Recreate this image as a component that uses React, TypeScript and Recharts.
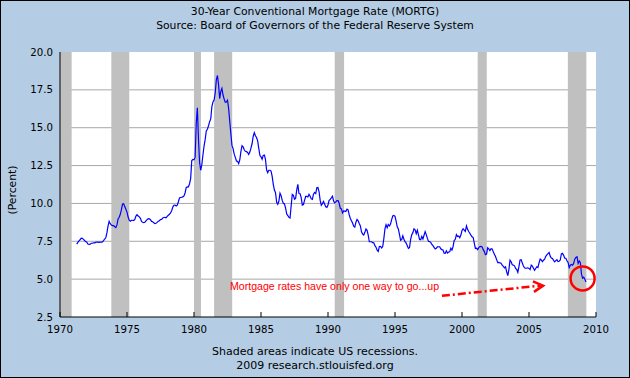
import React from 'react';
import {
  LineChart,
  Line,
  XAxis,
  YAxis,
  CartesianGrid,
  ReferenceArea,
  ReferenceLine,
  ReferenceDot
} from 'recharts';

// monthly 30-year conventional mortgage rate, first value is April 1971
const START_YEAR = 1971;
const START_MONTH = 3;

const rates1970s = [
  7.31, 7.43, 7.53, 7.60, 7.70, 7.69, 7.63, 7.55, 7.48,
  7.44, 7.32, 7.29, 7.31, 7.37, 7.37, 7.40, 7.40, 7.43, 7.45, 7.44, 7.43,
  7.44, 7.44, 7.46, 7.54, 7.65, 7.73, 8.05, 8.50, 8.82, 8.66, 8.58, 8.54,
  8.54, 8.46, 8.41, 8.58, 8.97, 9.09, 9.28, 9.59, 9.96, 9.98, 9.79, 9.62,
  9.43, 9.10, 8.89, 8.82, 8.89, 8.89, 8.87, 8.94, 9.16, 9.25, 9.17, 9.11,
  9.02, 8.81, 8.76, 8.73, 8.76, 8.85, 8.93, 9.00, 8.98, 8.92, 8.81, 8.79,
  8.72, 8.67, 8.69, 8.75, 8.83, 8.86, 8.94, 8.94, 9.04, 9.07, 9.08, 9.05,
  9.14, 9.22, 9.28, 9.37, 9.52, 9.76, 9.88, 9.89, 9.83, 9.89, 10.11, 10.36,
  10.39, 10.41, 10.43, 10.50, 10.69, 11.04, 11.09, 11.09, 11.30, 11.64, 12.83, 12.90
];

const rates1980s = [
  12.88, 13.04, 15.28, 16.32, 14.26, 12.71, 12.19, 12.56, 13.20, 13.79, 14.21, 14.79,
  14.90, 15.13, 15.40, 15.58, 16.40, 16.70, 16.83, 17.29, 18.16, 18.45, 17.83, 16.92,
  17.40, 17.60, 17.16, 16.89, 16.68, 16.70, 16.82, 16.27, 15.43, 14.61, 13.83, 13.62,
  13.25, 13.04, 12.80, 12.78, 12.63, 12.87, 13.42, 13.81, 13.73, 13.54, 13.44, 13.42,
  13.37, 13.23, 13.39, 13.65, 13.94, 14.42, 14.67, 14.47, 14.35, 14.13, 13.64, 13.18,
  13.08, 12.92, 13.17, 13.20, 12.91, 12.22, 12.03, 12.19, 12.19, 12.14, 11.78, 11.26,
  10.88, 10.71, 10.08, 9.94, 10.14, 10.68, 10.51, 10.20, 10.01, 9.97, 9.70, 9.31,
  9.20, 9.08, 9.04, 9.83, 10.60, 10.54, 10.28, 10.33, 10.89, 11.26, 10.65, 10.64,
  10.38, 9.89, 9.93, 10.20, 10.46, 10.46, 10.43, 10.60, 10.48, 10.30, 10.27, 10.61,
  10.73, 10.65, 11.03, 11.05, 10.77, 10.20, 9.88, 9.99, 10.13, 9.95, 9.77, 9.74
];

const rates1990s = [
  9.90, 10.20, 10.27, 10.37, 10.48, 10.16, 10.04, 10.10, 10.18, 10.18, 10.01, 9.67,
  9.64, 9.37, 9.50, 9.49, 9.47, 9.62, 9.58, 9.24, 9.01, 8.86, 8.71, 8.50,
  8.43, 8.76, 8.94, 8.85, 8.67, 8.51, 8.13, 7.98, 7.92, 8.09, 8.31, 8.22,
  7.91, 7.47, 7.47, 7.47, 7.41, 7.40, 7.21, 7.11, 6.91, 6.83, 7.16, 7.17,
  7.06, 7.15, 7.68, 8.32, 8.60, 8.40, 8.61, 8.51, 8.64, 8.93, 9.17, 9.20,
  9.15, 8.83, 8.46, 8.32, 7.96, 7.57, 7.61, 7.86, 7.64, 7.48, 7.38, 7.20,
  7.03, 7.08, 7.62, 7.93, 8.07, 8.32, 8.25, 8.00, 8.23, 7.92, 7.62, 7.60,
  7.82, 7.65, 7.90, 8.14, 7.94, 7.69, 7.50, 7.48, 7.43, 7.29, 7.21, 7.10,
  6.99, 7.04, 7.13, 7.14, 7.14, 7.00, 6.95, 6.92, 6.72, 6.71, 6.87, 6.72,
  6.79, 6.81, 7.04, 6.92, 7.15, 7.55, 7.63, 7.94, 7.82, 7.85, 7.74, 7.91
];

const rates2000s = [
  8.21, 8.33, 8.24, 8.15, 8.52, 8.29, 8.15, 8.03, 7.91, 7.80, 7.75, 7.38,
  7.03, 7.05, 6.95, 7.08, 7.15, 7.16, 7.13, 6.95, 6.82, 6.62, 6.66, 7.07,
  7.00, 6.89, 7.01, 6.99, 6.81, 6.65, 6.49, 6.29, 6.09, 6.11, 6.07, 6.05,
  5.92, 5.84, 5.75, 5.81, 5.48, 5.23, 5.63, 6.26, 6.15, 5.95, 5.93, 5.88,
  5.71, 5.64, 5.45, 5.83, 6.27, 6.29, 6.06, 5.87, 5.75, 5.72, 5.73, 5.75,
  5.71, 5.63, 5.93, 5.86, 5.72, 5.58, 5.70, 5.82, 5.77, 6.07, 6.33, 6.27,
  6.15, 6.25, 6.32, 6.51, 6.60, 6.68, 6.76, 6.52, 6.40, 6.36, 6.24, 6.14,
  6.22, 6.29, 6.16, 6.18, 6.26, 6.66, 6.70, 6.57, 6.38, 6.38, 6.21, 6.10,
  5.76, 5.92, 5.97, 5.92, 6.04, 6.32, 6.43, 6.48, 6.04, 6.20, 6.09, 5.33,
  5.06, 5.13, 5.00, 4.81
];

// recession periods (start, end) in fractional years
const recessions = [
  [1970.0, 1970.87],
  [1973.83, 1975.17],
  [1980.0, 1980.52],
  [1981.5, 1982.85],
  [1990.5, 1991.2],
  [2001.17, 2001.85],
  [2007.9, 2009.28]
];

const yearTicks = [1970, 1975, 1980, 1985, 1990, 1995, 2000, 2005, 2010];
const rateTicks = [2.5, 5, 7.5, 10, 12.5, 15, 17.5, 20];
const gridValues = [5, 7.5, 10, 12.5, 15, 17.5];

const allRates = [...rates1970s, ...rates1980s, ...rates1990s, ...rates2000s];
const data = allRates.map((rate, i) => ({
  x: START_YEAR + (START_MONTH + i) / 12,
  rate
}));

const RED = '#ff0000';
const FONT = '"DejaVu Sans", Verdana, sans-serif';

const arrowShape = (props: any) => {
  const { x1, y1, x2, y2 } = props;
  const ang = Math.atan2(y2 - y1, x2 - x1);
  const len = 11;
  const a1x = x2 - len * Math.cos(ang - 0.5);
  const a1y = y2 - len * Math.sin(ang - 0.5);
  const a2x = x2 - len * Math.cos(ang + 0.5);
  const a2y = y2 - len * Math.sin(ang + 0.5);
  return (
    <g>
      <line x1={x1} y1={y1} x2={x2 - 3} y2={y2} stroke={RED} strokeWidth={2.5} strokeDasharray="8 3 2 3" />
      <path d={`M${a1x},${a1y} L${x2},${y2} L${a2x},${a2y}`} fill="none" stroke={RED} strokeWidth={2.5} />
    </g>
  );
};

export default function App() {
  return (
    <div style={{ position: 'relative', width: 630, height: 378, background: '#b4cde4', fontFamily: FONT, overflow: 'hidden' }}>
      <style>{'body{margin:0}'}</style>
      <div style={{ position: 'absolute', top: 5, left: 0, width: 630, textAlign: 'center', fontSize: 10.8, lineHeight: '13.5px', color: '#000' }}>
        30-Year Conventional Mortgage Rate (MORTG)
        <br />
        Source: Board of Governors of the Federal Reserve System
      </div>
      <LineChart width={630} height={378} data={data} margin={{ top: 52, right: 34, bottom: 31, left: 0 }}>
        <CartesianGrid
          vertical={false}
          horizontalValues={gridValues}
          stroke="#a8a8a8"
          fill="#ffffff"
          fillOpacity={1}
        />
        {recessions.map(([a, b], i) => (
          <ReferenceArea key={`rec-${i}`} x1={a} x2={b} y1={2.5} y2={20} fill="#c0c0c0" fillOpacity={1} stroke="none" ifOverflow="hidden" />
        ))}
        <XAxis
          dataKey="x"
          type="number"
          domain={[1970, 2010]}
          ticks={yearTicks}
          allowDataOverflow
          height={30}
          tickSize={-5}
          tickMargin={14}
          axisLine={{ stroke: '#000' }}
          tickLine={{ stroke: '#000' }}
          tick={{ fill: '#000', fontSize: 10.2, fontFamily: FONT }}
        />
        <YAxis
          type="number"
          domain={[2.5, 20]}
          ticks={rateTicks}
          allowDataOverflow
          width={60}
          tickSize={-5}
          tickMargin={12}
          tickLine={false}
          axisLine={{ stroke: '#000' }}
          tickFormatter={(v: number) => v.toFixed(1)}
          tick={{ fill: '#000', fontSize: 10.2, fontFamily: FONT }}
        />
        <Line
          type="linear"
          dataKey="rate"
          stroke="#0000ff"
          strokeWidth={1.2}
          dot={false}
          isAnimationActive={false}
        />
        <ReferenceLine
          segment={[{ x: 1998.5, y: 3.9 }, { x: 2006.05, y: 4.57 }]}
          shape={arrowShape}
          ifOverflow="visible"
        />
        <ReferenceDot x={2009.0} y={5.05} r={12} fill="none" stroke={RED} strokeWidth={2.5} ifOverflow="visible" />
      </LineChart>
      <div style={{ position: 'absolute', left: 230, top: 280, fontFamily: '"Liberation Sans", Arial, sans-serif', fontSize: 10.6, lineHeight: '13px', color: RED, whiteSpace: 'nowrap' }}>
        Mortgage rates have only one way to go...up
      </div>
      <div style={{ position: 'absolute', left: 12, top: 190, transform: 'translate(-50%, -50%) rotate(-90deg)', fontSize: 10.8, lineHeight: '13px', whiteSpace: 'nowrap', color: '#000' }}>
        (Percent)
      </div>
      <div style={{ position: 'absolute', top: 345, left: 0, width: 630, textAlign: 'center', fontSize: 11, lineHeight: '13.5px', color: '#000' }}>
        Shaded areas indicate US recessions.
        <br />
        2009 research.stlouisfed.org
      </div>
      <div style={{ position: 'absolute', inset: 0, border: '1px solid #000', boxSizing: 'border-box', pointerEvents: 'none' }} />
    </div>
  );
}
